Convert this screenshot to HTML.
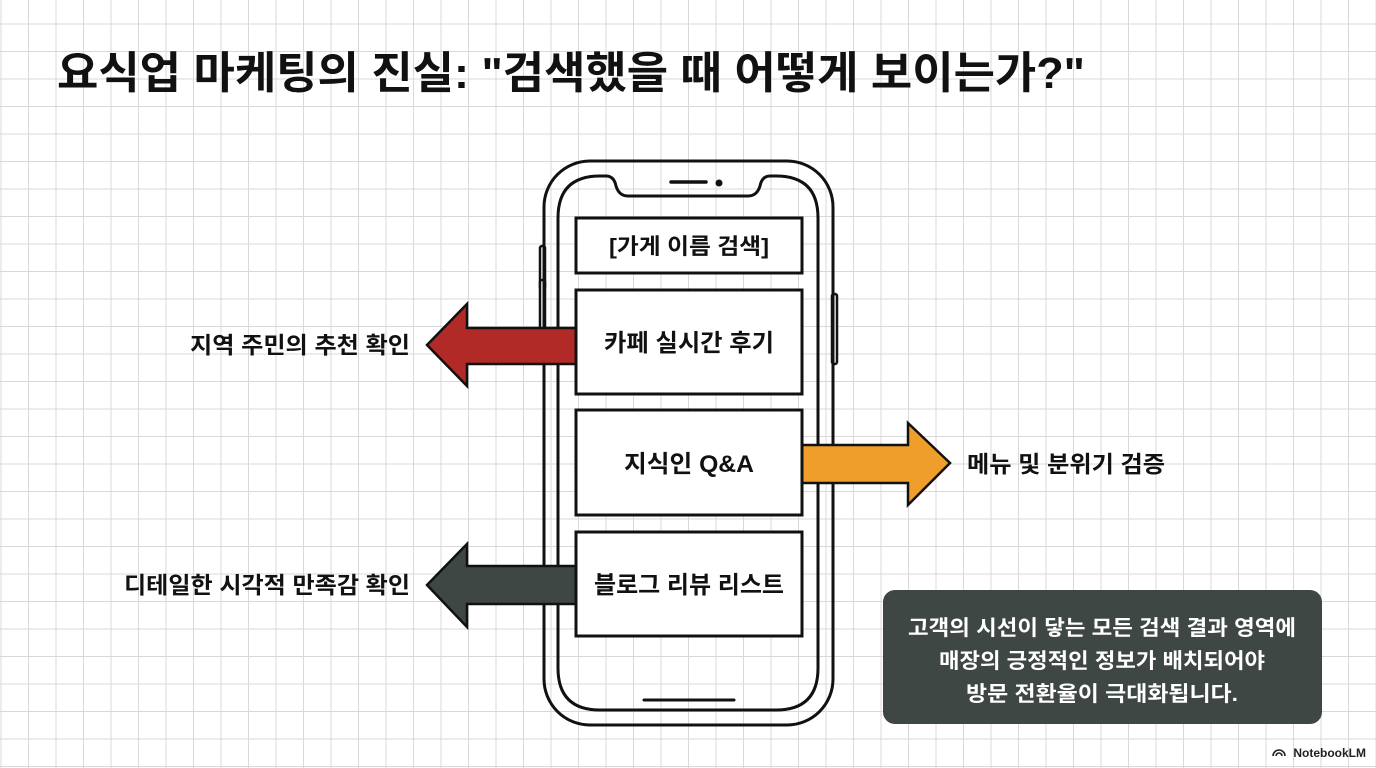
<!DOCTYPE html>
<html><head><meta charset="utf-8"><style>
html,body{margin:0;padding:0}
body{width:1376px;height:768px;overflow:hidden;background:#fff;position:relative;font-family:"Liberation Sans","Noto Sans CJK KR",sans-serif;
background-image:linear-gradient(#d8d8d8 1px,transparent 1px),linear-gradient(90deg,#d8d8d8 1px,transparent 1px);
background-size:27.5px 27.5px;background-position:0.5px -4px}
svg{position:absolute;left:0;top:0}
.t{font-family:"Liberation Sans","Noto Sans CJK KR",sans-serif;font-weight:bold;fill:#111}
</style></head><body>
<svg width="1376" height="768" viewBox="0 0 1376 768">
<text class="t" x="57" y="88" font-size="44" textLength="1028" lengthAdjust="spacingAndGlyphs">요식업 마케팅의 진실: "검색했을 때 어떻게 보이는가?"</text>
<!-- phone -->
<rect x="540" y="246" width="5" height="44" rx="2" fill="#fff" stroke="#111" stroke-width="2.5"/>
<rect x="540" y="280" width="5" height="60" rx="2" fill="#fff" stroke="#111" stroke-width="2.5"/>
<rect x="832" y="294" width="5" height="70" rx="2" fill="#fff" stroke="#111" stroke-width="2.5"/>
<rect x="544" y="161" width="289" height="564" rx="46" fill="none" stroke="#111" stroke-width="3"/>
<path d="M606 176 L600 176 Q558 176 558 218 L558 668 Q558 710 600 710 L776 710 Q818 710 818 668 L818 218 Q818 176 776 176 L770 176 Q762 176 760 186 Q757 196 748 196 L628 196 Q619 196 616 186 Q614 176 606 176 Z" fill="none" stroke="#111" stroke-width="3"/>
<line x1="671" y1="182" x2="706" y2="182" stroke="#111" stroke-width="3.5" stroke-linecap="round"/>
<circle cx="719" cy="183" r="3.5" fill="#111"/>
<line x1="644" y1="700" x2="734" y2="700" stroke="#111" stroke-width="3" stroke-linecap="round"/>
<!-- arrows -->
<polygon points="576,328 467,328 467,304 427,345 467,386 467,364 576,364" fill="#b22a27" stroke="#111" stroke-width="2.5"/>
<polygon points="801,445 908,445 908,423 950,463 908,505 908,483 801,483" fill="#ef9e2b" stroke="#111" stroke-width="2.5"/>
<polygon points="576,566 467,566 467,544 427,585 467,627 467,604 576,604" fill="#3f4745" stroke="#111" stroke-width="2.5"/>
<!-- boxes -->
<rect x="576" y="218" width="226" height="55" fill="#fff" stroke="#111" stroke-width="3"/>
<rect x="576" y="290" width="226" height="104" fill="#fff" stroke="#111" stroke-width="3"/>
<rect x="576" y="410" width="226" height="105" fill="#fff" stroke="#111" stroke-width="3"/>
<rect x="576" y="532" width="226" height="104" fill="#fff" stroke="#111" stroke-width="3"/>
<text class="t" x="689" y="254" font-size="22" text-anchor="middle" textLength="160" lengthAdjust="spacingAndGlyphs">[가게 이름 검색]</text>
<text class="t" x="689" y="351" font-size="24" text-anchor="middle" textLength="170" lengthAdjust="spacingAndGlyphs">카페 실시간 후기</text>
<text class="t" x="689" y="472" font-size="24" text-anchor="middle" textLength="130" lengthAdjust="spacingAndGlyphs">지식인 Q&amp;A</text>
<text class="t" x="689" y="593" font-size="24" text-anchor="middle" textLength="190" lengthAdjust="spacingAndGlyphs">블로그 리뷰 리스트</text>
<text class="t" x="410" y="353" font-size="23" text-anchor="end" textLength="220" lengthAdjust="spacingAndGlyphs">지역 주민의 추천 확인</text>
<text class="t" x="967" y="472" font-size="23" textLength="198" lengthAdjust="spacingAndGlyphs">메뉴 및 분위기 검증</text>
<text class="t" x="410" y="593" font-size="23" text-anchor="end" textLength="286" lengthAdjust="spacingAndGlyphs">디테일한 시각적 만족감 확인</text>
<!-- callout -->
<rect x="883" y="590" width="439" height="134" rx="12" fill="#3f4745"/>
<g font-family="Liberation Sans,Noto Sans CJK KR,sans-serif" font-size="21" fill="#fff" text-anchor="middle" font-weight="bold">
<text x="1102" y="635" textLength="388" lengthAdjust="spacingAndGlyphs">고객의 시선이 닿는 모든 검색 결과 영역에</text>
<text x="1102" y="668" textLength="326" lengthAdjust="spacingAndGlyphs">매장의 긍정적인 정보가 배치되어야</text>
<text x="1102" y="701" textLength="272" lengthAdjust="spacingAndGlyphs">방문 전환율이 극대화됩니다.</text>
</g>
<text x="1366" y="757" font-size="12" text-anchor="end" font-weight="bold" fill="#222" font-family="Liberation Sans,sans-serif">NotebookLM</text>
<path d="M1273 756 a6 6 0 0 1 12 0 M1276 756 a3 3 0 0 1 6 0" fill="none" stroke="#222" stroke-width="1.6"/>
</svg>
</body></html>
